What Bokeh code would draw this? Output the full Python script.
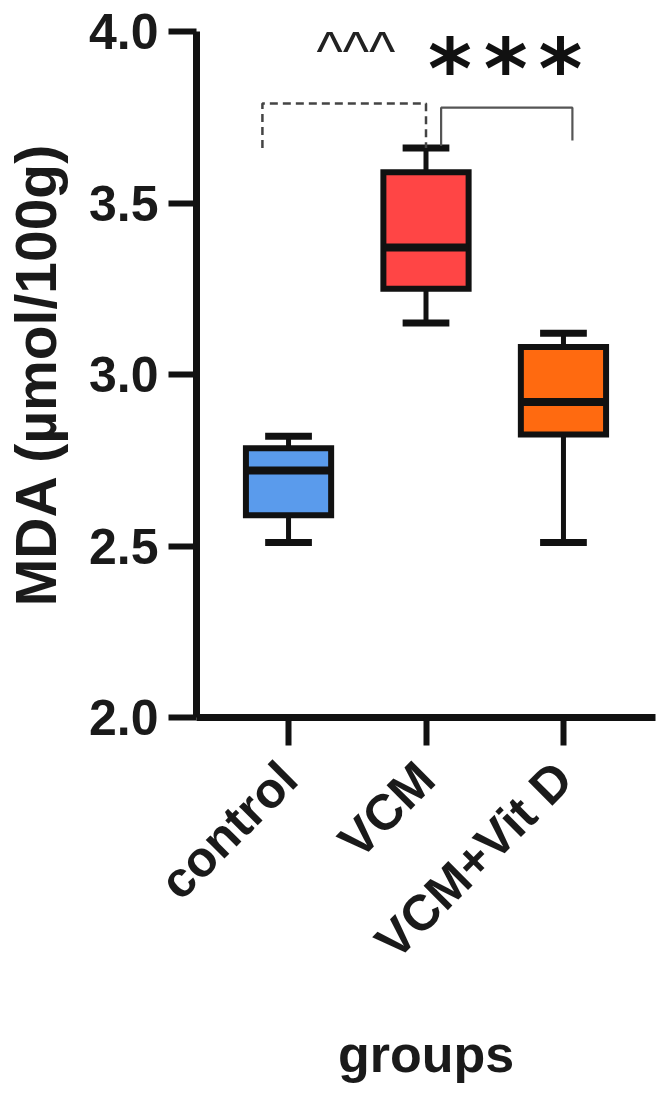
import math
from bokeh.plotting import figure
from bokeh.models import FactorRange, Range1d, FixedTicker, PrintfTickFormatter, ColumnDataSource
from bokeh.core.properties import value
from bokeh.embed import file_html
from bokeh.resources import INLINE

# ---- data ----
groups = ["control", "VCM", "VCM+Vit D"]
mins = [2.51, 3.15, 2.51]
q1 = [2.59, 3.25, 2.825]
medians = [2.72, 3.37, 2.92]
q3 = [2.785, 3.59, 3.08]
maxs = [2.82, 3.66, 3.12]
colors = ["#5A9BEC", "#FF4545", "#FF6A10"]
y_ticks = [2.0, 2.5, 3.0, 3.5, 4.0]

FONT = "Liberation Sans"
INK = "#111111"

p = figure(
    x_range=FactorRange(*groups, range_padding=0.113),
    y_range=Range1d(2.0, 4.0),
    width=658, height=1090,
    output_backend="svg", toolbar_location=None,
    min_border_left=193, min_border_right=3,
    min_border_top=31, min_border_bottom=373,
)
p.background_fill_color = "white"
p.border_fill_color = "white"
p.outline_line_color = None
p.xgrid.grid_line_color = None
p.ygrid.grid_line_color = None

src = ColumnDataSource(dict(g=groups, lo=mins, q1=q1, med=medians, q3=q3, hi=maxs, c=colors))

# whiskers
p.segment(x0="g", x1="g", y0="q3", y1="hi", source=src, line_color=INK, line_width=5)
p.segment(x0="g", x1="g", y0="lo", y1="q1", source=src, line_color=INK, line_width=5)
# caps
p.rect(x="g", y="hi", width=0.34, height=7, height_units="screen", source=src,
       fill_color=INK, line_color=None)
p.rect(x="g", y="lo", width=0.34, height=7, height_units="screen", source=src,
       fill_color=INK, line_color=None)
# boxes
p.vbar(x="g", width=0.62, bottom="q1", top="q3", source=src, fill_color="c",
       line_color=INK, line_width=6, line_join="miter")
# medians
p.rect(x="g", y="med", width=0.62, height=8, height_units="screen", source=src,
       fill_color=INK, line_color=None)

# significance brackets
dash_src = ColumnDataSource(dict(
    x=[("control", -0.19), ("control", -0.19), ("VCM", 0.0), ("VCM", 0.0)],
    y=[3.66, 3.79, 3.79, 3.66]))
p.line("x", "y", source=dash_src, line_color="#444444", line_width=2.5, line_dash="8 5")
solid_src = ColumnDataSource(dict(
    x=[("VCM", 0.11), ("VCM", 0.11), ("VCM+Vit D", 0.065), ("VCM+Vit D", 0.065)],
    y=[3.667, 3.778, 3.778, 3.682]))
p.line("x", "y", source=solid_src, line_color="#555555", line_width=2.2)

caret_src = ColumnDataSource(dict(x=[("VCM", -0.51)], y=[3.945], t=["^^^"]))
p.text(x="x", y="y", text="t", source=caret_src, text_font=value(FONT), text_font_size="56px",
       text_align="center", text_baseline="alphabetic", text_color="#222222")

star_src = ColumnDataSource(dict(
    x=[("VCM+Vit D", -0.826), ("VCM+Vit D", -0.42), ("VCM+Vit D", -0.022)],
    y=[3.89, 3.89, 3.89], t=["*", "*", "*"]))
p.text(x="x", y="y", text="t", source=star_src, text_font=value("DejaVu Sans"),
       text_font_style="bold", text_font_size="84px",
       text_align="center", text_baseline="alphabetic", text_color=INK)

# axes
for ax in (p.xaxis[0], p.yaxis[0]):
    ax.axis_line_width = 7
    ax.axis_line_color = INK
    ax.major_tick_line_width = 6
    ax.major_tick_line_color = INK
    ax.major_tick_out = 28
    ax.major_tick_in = 0
    ax.minor_tick_line_color = None
    ax.major_label_text_font = FONT
    ax.major_label_text_font_style = "bold"
    ax.major_label_text_font_size = "50px"
    ax.major_label_text_color = "#1a1a1a"
    ax.axis_label_text_font = FONT
    ax.axis_label_text_font_style = "bold"
    ax.axis_label_text_color = "#1a1a1a"

p.yaxis.ticker = FixedTicker(ticks=y_ticks)
p.yaxis.formatter = PrintfTickFormatter(format="%.1f")
p.yaxis.major_label_standoff = 10
p.yaxis.axis_label = "MDA (µmol/100g)"
p.yaxis.axis_label_text_font_size = "57px"
p.yaxis.axis_label_standoff = 18

p.xaxis.major_label_orientation = math.pi / 4
p.xaxis.major_label_standoff = 25
p.xaxis.axis_label = "groups"
p.xaxis.axis_label_text_font_size = "52px"
p.xaxis.axis_label_standoff = 33

open("out.html", "w").write(file_html(p, INLINE))
